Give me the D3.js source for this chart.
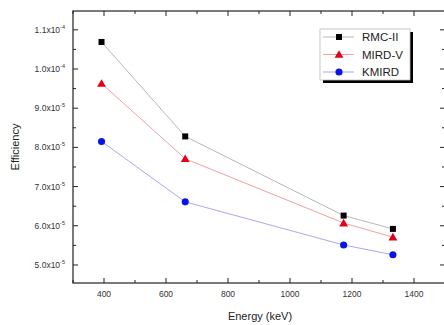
<!DOCTYPE html>
<html>
<head>
<meta charset="utf-8">
<script src="https://cdn.jsdelivr.net/npm/d3@7"></script>
<style>
  body { margin: 0; background: #fff; }
  svg { font-family: "Liberation Sans", Arial, sans-serif; }
</style>
</head>
<body>
<div id="chart"></div>
<script>
const energies = [392, 662, 1173, 1332];
const rmc = [1.069e-4, 8.28e-5, 6.26e-5, 5.92e-5];
const mird = [9.63e-5, 7.71e-5, 6.07e-5, 5.71e-5];
const kmird = [8.15e-5, 6.61e-5, 5.51e-5, 5.26e-5];
const xTicks = [400, 600, 800, 1000, 1200, 1400];
const yTicks = [5e-5, 6e-5, 7e-5, 8e-5, 9e-5, 1e-4, 1.1e-4];
const yTickLabels = [['5.0x10', '-5'], ['6.0x10', '-5'], ['7.0x10', '-5'], ['8.0x10', '-5'],
  ['9.0x10', '-5'], ['1.0x10', '-4'], ['1.1x10', '-4']];

const series = [
  { name: 'RMC-II', values: rmc, line: '#b8b8b8', fill: '#000', shape: d3.symbolSquare, size: 36 },
  { name: 'MIRD-V', values: mird, line: '#f2a0a0', fill: '#e4001a', shape: d3.symbolTriangle, size: 34 },
  { name: 'KMIRD', values: kmird, line: '#a8a8f4', fill: '#0a14e6', shape: d3.symbolCircle, size: 40 }
];

const width = 444, height = 325;
const margin = { left: 73, right: -1, top: 11, bottom: 42 };

const svg = d3.select('#chart').append('svg')
  .attr('width', width)
  .attr('height', height);

const x = d3.scaleLinear().domain([300, 1500]).range([margin.left, width - margin.right]);
const y = d3.scaleLinear().domain([4.54e-5, 1.148e-4]).range([height - margin.bottom, margin.top]);

const x0 = x.range()[0], x1 = x.range()[1];
const y0 = y.range()[0], y1 = y.range()[1];

// frame
svg.append('rect')
  .attr('x', x0).attr('y', y1)
  .attr('width', x1 - x0).attr('height', y0 - y1)
  .attr('fill', 'none').attr('stroke', '#222').attr('stroke-width', 1.2);

// ticks point inward on all four sides
const xMinor = d3.range(300, 1500, 100).filter(v => xTicks.indexOf(v) < 0);
const yMinor = yTicks.slice(0, -1).map(v => v + 0.5e-5);

const tickG = svg.append('g').attr('stroke', '#222').attr('stroke-width', 1);

xTicks.forEach(v => {
  tickG.append('line').attr('x1', x(v)).attr('x2', x(v)).attr('y1', y0).attr('y2', y0 - 5);
  tickG.append('line').attr('x1', x(v)).attr('x2', x(v)).attr('y1', y1).attr('y2', y1 + 5);
});
xMinor.forEach(v => {
  tickG.append('line').attr('x1', x(v)).attr('x2', x(v)).attr('y1', y0).attr('y2', y0 - 3);
  tickG.append('line').attr('x1', x(v)).attr('x2', x(v)).attr('y1', y1).attr('y2', y1 + 3);
});
yTicks.forEach(v => {
  tickG.append('line').attr('x1', x0).attr('x2', x0 + 5).attr('y1', y(v)).attr('y2', y(v));
  tickG.append('line').attr('x1', x1).attr('x2', x1 - 5).attr('y1', y(v)).attr('y2', y(v));
});
yMinor.forEach(v => {
  tickG.append('line').attr('x1', x0).attr('x2', x0 + 3).attr('y1', y(v)).attr('y2', y(v));
  tickG.append('line').attr('x1', x1).attr('x2', x1 - 3).attr('y1', y(v)).attr('y2', y(v));
});

// tick labels
svg.append('g').selectAll('text')
  .data(xTicks)
  .join('text')
  .attr('x', d => x(d))
  .attr('y', y0 + 14)
  .attr('text-anchor', 'middle')
  .attr('font-size', 8.5)
  .attr('fill', '#333')
  .text(d => d);

const yl = svg.append('g').selectAll('text')
  .data(yTicks)
  .join('text')
  .attr('x', x0 - 8)
  .attr('y', d => y(d) + 3)
  .attr('text-anchor', 'end')
  .attr('font-size', 8.5)
  .attr('fill', '#333');
yl.append('tspan').text((d, i) => yTickLabels[i][0]);
yl.append('tspan').attr('dy', -4).attr('font-size', 5.5).text((d, i) => yTickLabels[i][1]);

// axis titles
svg.append('text')
  .attr('x', 260)
  .attr('y', 320)
  .attr('text-anchor', 'middle')
  .attr('font-size', 11)
  .attr('fill', '#222')
  .text('Energy (keV)');

svg.append('text')
  .attr('transform', `translate(19, ${(y0 + y1) / 2}) rotate(-90)`)
  .attr('text-anchor', 'middle')
  .attr('font-size', 11)
  .attr('fill', '#222')
  .text('Efficiency');

// series
const line = d3.line().x((d, i) => x(energies[i])).y(d => y(d));

series.forEach(s => {
  svg.append('path')
    .datum(s.values)
    .attr('d', line)
    .attr('fill', 'none')
    .attr('stroke', s.line)
    .attr('stroke-width', 1);
  svg.append('g').selectAll('path')
    .data(s.values)
    .join('path')
    .attr('transform', (d, i) => `translate(${x(energies[i])},${y(d) + (s.shape === d3.symbolTriangle ? 0.8 : 0)})`)
    .attr('d', d3.symbol().type(s.shape).size(s.size))
    .attr('fill', s.fill);
});

// legend
const lg = svg.append('g').attr('transform', 'translate(320,29)');
lg.append('rect').attr('x', 3).attr('y', 3).attr('width', 90).attr('height', 51).attr('fill', '#000');
lg.append('rect').attr('x', 0).attr('y', 0).attr('width', 90).attr('height', 51)
  .attr('fill', '#fff').attr('stroke', '#bbb').attr('stroke-width', 0.8);

series.forEach((s, i) => {
  const ry = 8 + i * 17.5;
  lg.append('line').attr('x1', 3).attr('x2', 34).attr('y1', ry).attr('y2', ry)
    .attr('stroke', s.line).attr('stroke-width', 1);
  lg.append('path')
    .attr('transform', `translate(19,${ry + (s.shape === d3.symbolTriangle ? 0.8 : 0)})`)
    .attr('d', d3.symbol().type(s.shape).size(s.size))
    .attr('fill', s.fill);
  lg.append('text')
    .attr('x', 42).attr('y', ry + 4)
    .attr('font-size', 11.5)
    .attr('fill', '#222')
    .text(s.name);
});
</script>
</body>
</html>
